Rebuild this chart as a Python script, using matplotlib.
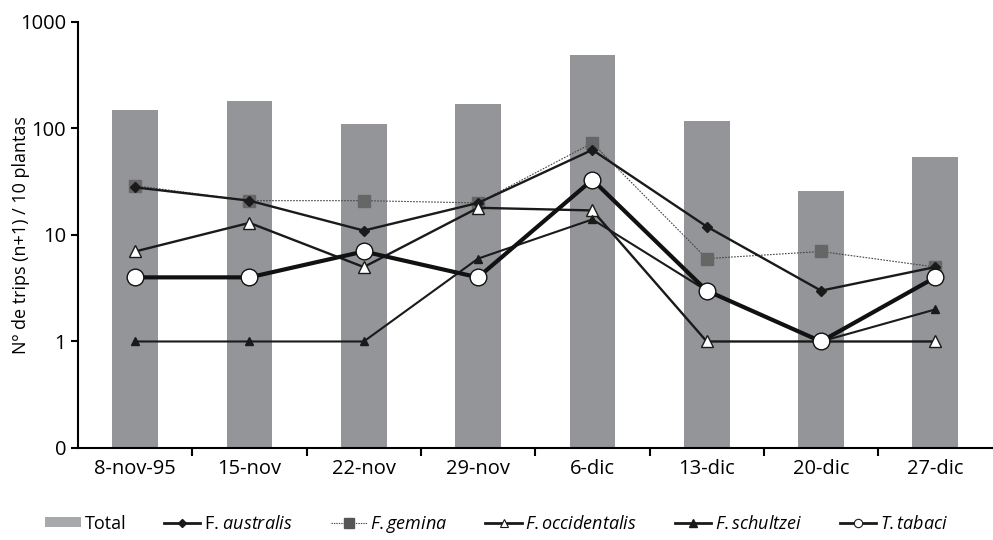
import matplotlib
matplotlib.use('Agg')
import matplotlib.pyplot as plt
from matplotlib.lines import Line2D
from matplotlib.patches import Patch
import numpy as np

plt.rcParams['font.family'] = ['Open Sans', 'DejaVu Sans']
plt.rcParams['mathtext.fontset'] = 'custom'
plt.rcParams['mathtext.it'] = 'Open Sans:italic'
plt.rcParams['mathtext.rm'] = 'Open Sans'

fechas = ['8-nov-95', '15-nov', '22-nov', '29-nov', '6-dic', '13-dic', '20-dic', '27-dic']
total = [149, 181, 110, 170, 490, 117, 26, 54]
australis = [28, 21, 11, 20, 63, 12, 3, 5]
gemina = [29, 21, 21, 20, 73, 6, 7, 5]
occidentalis = [7, 13, 5, 18, 17, 1, 1, 1]
schultzei = [1, 1, 1, 6, 14, 3, 1, 2]
tabaci = [4, 4, 7, 4, 33, 3, 1, 4]

x = np.arange(len(fechas))

fig = plt.figure(figsize=(9.93, 5.4), dpi=100)
ax = fig.add_axes([0.0785, 0.1704, 0.921, 0.7889])

ax.set_yscale('log')
ax.set_ylim(0.1, 1000)
ax.set_xlim(-0.5, 7.5)

# bars start from the bottom of the axis (0.1, labelled "0")
ax.bar(x, np.array(total) - 0.1, bottom=0.1, width=0.4, color='#939598', zorder=1)

ax.plot(x, gemina, color='#444444', lw=0.8, ls=(0, (1.5, 1.2)), marker='s',
        ms=9, mfc='#666666', mec='#666666', zorder=2)
ax.plot(x, australis, color='#1a1a1a', lw=1.7, marker='D', ms=5.5,
        mfc='#1a1a1a', mec='#1a1a1a', zorder=3)
ax.plot(x, occidentalis, color='#1a1a1a', lw=1.7, marker='^', ms=9,
        mfc='white', mec='#1a1a1a', mew=1, zorder=4)
ax.plot(x, schultzei, color='#1a1a1a', lw=1.5, marker='^', ms=6,
        mfc='#1a1a1a', mec='#1a1a1a', zorder=5)
ax.plot(x, tabaci, color='#111111', lw=3, marker='o', ms=12,
        mfc='white', mec='#111111', mew=1, zorder=6)

ax.set_yticks([0.1, 1, 10, 100, 1000])
ax.set_yticklabels(['0', '1', '10', '100', '1000'])
ax.yaxis.set_minor_locator(matplotlib.ticker.NullLocator())
ax.set_xticks(x)
ax.set_xticklabels(fechas)
ax.set_xticks(np.arange(0.5, 7.5, 1), minor=True)
ax.tick_params(axis='x', which='major', length=0, pad=8, labelsize=14.5)
ax.tick_params(axis='x', which='minor', length=6, width=1.5, direction='out')
ax.tick_params(axis='y', length=5, width=1.5, labelsize=14.5)

for s in ['top', 'right']:
    ax.spines[s].set_visible(False)
for s in ['left', 'bottom']:
    ax.spines[s].set_linewidth(1.5)

ax.set_ylabel('Nº de trips (n+1) / 10 plantas', fontsize=13)
ax.yaxis.set_label_coords(-0.052, 0.5)

# legend with small markers, like the original
handles = [
    Patch(facecolor='#a7a9ac', edgecolor='none'),
    Line2D([], [], color='#1a1a1a', lw=2, marker='D', ms=4, mfc='#1a1a1a'),
    Line2D([], [], color='#444444', lw=0.8, ls=(0, (1.2, 1)), marker='s', ms=7,
           mfc='#555555', mec='#555555'),
    Line2D([], [], color='#1a1a1a', lw=2, marker='^', ms=6, mfc='white', mec='#1a1a1a', mew=0.8),
    Line2D([], [], color='#1a1a1a', lw=2, marker='^', ms=6, mfc='#1a1a1a'),
    Line2D([], [], color='#1a1a1a', lw=2, marker='o', ms=6, mfc='white', mec='#1a1a1a', mew=0.8),
]
labels = ['Total', 'F. $\\it{australis}$', '$\\it{F. gemina}$',
          '$\\it{F. occidentalis}$', '$\\it{F. schultzei}$', '$\\it{T. tabaci}$']
fig.legend(handles, labels, loc='lower center', ncol=6, frameon=False,
           fontsize=13, bbox_to_anchor=(0.5, -0.02), columnspacing=2.1,
           handlelength=2.0, handleheight=0.45, handletextpad=0.2)

fig.savefig('out.png', dpi=100)
